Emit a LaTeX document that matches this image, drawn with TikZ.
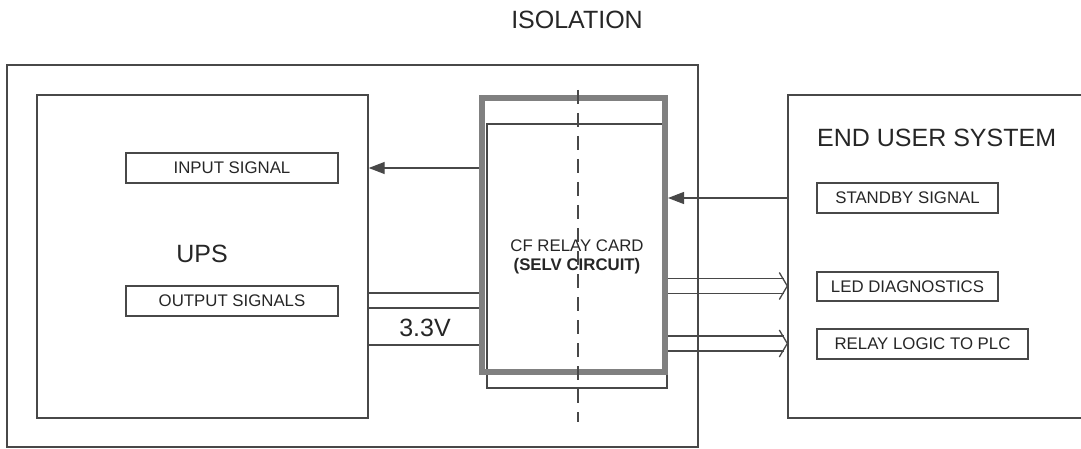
\documentclass[tikz,border=0pt]{standalone}
\usepackage{fontspec}
\setmainfont{Liberation Sans}
\usetikzlibrary{arrows.meta,calc,positioning}

\definecolor{wireGray}{HTML}{484848}
\definecolor{cardGray}{HTML}{808080}
\definecolor{inkGray}{HTML}{262626}

\begin{document}
\begin{tikzpicture}[
    x=1pt, y=-1pt,
    bigText/.style={font=\fontsize{25}{30}\selectfont, text=inkGray},
    smallText/.style={font=\fontsize{16.8}{19}\selectfont, text=inkGray},
    frame/.style={draw=wireGray, line width=1.4pt, rectangle, inner sep=0pt},
    sigBox/.style={frame, smallText, line width=1.2pt},
    cardFrame/.style={draw=cardGray, line width=6pt, rectangle, inner sep=0pt},
    wire/.style={draw=wireGray, line width=1.3pt},
    sigArrow/.style={wire, -{Triangle[length=16pt, width=12pt]}},
    isoLine/.style={draw=wireGray, line width=1.4pt, dash pattern=on 14pt off 9pt},
  ]

  \useasboundingbox (0,0) rectangle (1081,449);
  \clip (0,0) rectangle (1081,449);

% ============================ left side: UPS ===============================
  \node[frame, minimum width=691, minimum height=382] (upsFrame) at (352.5,256) {};
  \node[frame, minimum width=331, minimum height=323] (ups) at (202.5,256.5) {};
  \node[bigText] (upsLbl) at (202,254) {UPS};
  \node[sigBox, minimum width=212, minimum height=30] (inSig) at (232,168) {INPUT SIGNAL};
  \node[sigBox, minimum width=212, minimum height=30] (outSig) at (232,301) {OUTPUT SIGNALS};

% ============================ right side: end user =========================
  \node[frame, minimum width=312, minimum height=323] (eus) at (944,256.5) {};
  \node[bigText, anchor=west, inner sep=0pt] (eusLbl) at (817,138) {END USER SYSTEM};
  \node[sigBox, minimum width=181, minimum height=30] (stby) at (907.5,198) {STANDBY SIGNAL};
  \node[sigBox, minimum width=181, minimum height=29] (led) at (907.5,286.5) {LED DIAGNOSTICS};
  \node[sigBox, minimum width=211, minimum height=30] (relay) at (922.5,344) {RELAY LOGIC TO PLC};

% ============================ relay card ===================================
  \draw[wire] (487,124) rectangle (667,388);   % card base
  \node[cardFrame, minimum width=183, minimum height=273] (card) at (573.5,235) {};
  \node[smallText, align=center] (cardLbl) at (577,256.5)
        {CF RELAY CARD\\\textbf{(SELV CIRCUIT)}};

  % ---- connectors UPS <-> card --------------------------------------------
  \draw[sigArrow] (card.west |- inSig) -- (ups.east |- inSig);
  \draw[wire] ($(ups.east |- outSig)+(0,-8)$) -- ($(card.west |- outSig)+(0,-8)$);
  \draw[wire] ($(ups.east |- outSig)+(0,7)$) -- ($(card.west |- outSig)+(0,7)$);
  \node[bigText] (volt) at (425,328) {3.3V};
  \draw[wire] ($(ups.east |- volt)+(0,17)$) -- ($(card.west |- volt)+(0,17)$);

  % ---- connectors card <-> end user ---------------------------------------
  \draw[sigArrow] (eus.west |- stby) -- (card.east |- stby);
  \foreach \tgt in {led, relay} {
    \draw[wire] ($(card.east |- \tgt)+(0,-8)$) -- ($(eus.west |- \tgt)+(-3,-8)$);
    \draw[wire] ($(card.east |- \tgt)+(0,7)$) -- ($(eus.west |- \tgt)+(-3,7)$);
    \draw[wire] ($(eus.west |- \tgt)+(-8,-14)$) -- ($(eus.west |- \tgt)+(0,-0.5)$)
                -- ($(eus.west |- \tgt)+(-8,13)$);
  }

% ============================ isolation barrier ============================
  \node[bigText] (iso) at (577,20) {ISOLATION};
  \draw[isoLine] (578,90) -- (578,422);

\end{tikzpicture}
\end{document}
